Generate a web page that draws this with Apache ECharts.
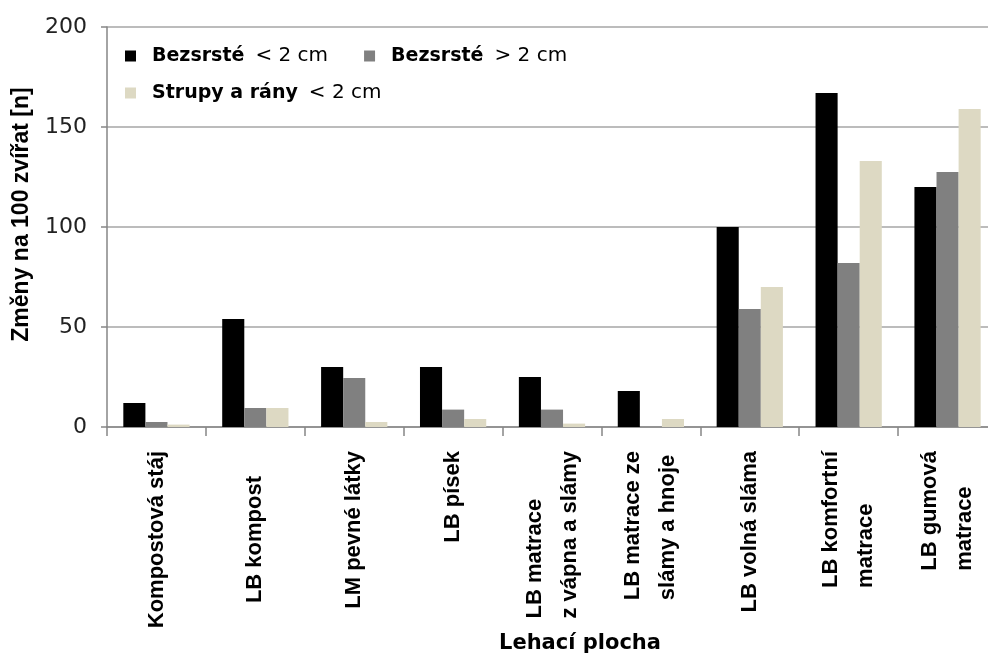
<!DOCTYPE html>
<html>
<head>
<meta charset="utf-8">
<script src="https://cdn.jsdelivr.net/npm/echarts@6/dist/echarts.min.js"></script>
<style>
  html, body { margin: 0; padding: 0; background: #fff; overflow: hidden; }
  #chart { width: 997px; height: 657px; }
</style>
</head>
<body>
<div id="chart"></div>
<script>
// data
const categories = [
  'Kompostová stáj',
  'LB kompost',
  'LM pevné látky',
  'LB písek',
  'LB matrace\nz vápna a slámy',
  'LB matrace ze\nslámy a hnoje',
  'LB volná sláma',
  'LB komfortní\nmatrace',
  'LB gumová\nmatrace'
];
const seriesNames = ['Bezsrsté < 2 cm', 'Bezsrsté > 2 cm', 'Strupy a rány < 2 cm'];
const bezsrsteSmall = [12, 54, 30, 30, 25, 18, 100, 167, 120];
const bezsrsteLarge = [2.5, 9.5, 24.5, 8.7, 8.7, 0, 59, 82, 127.5];
const strupySmall = [1.2, 9.5, 2.5, 4, 1.7, 4, 70, 133, 159];
const yTicks = { min: 0, max: 200, interval: 50 };

const colors = ['#000000', '#808080', '#ddd9c3'];

// the chart is a bit wider than the window: the reference is cut off on the right
const chart = echarts.init(document.getElementById('chart'));

const legendRich = {
  b: { fontFamily: 'DejaVu Sans', fontWeight: 'bold', fontSize: 19, color: '#000', lineHeight: 24, padding: [0, 0, 0, 11] },
  r: { fontFamily: 'DejaVu Sans', fontSize: 20, color: '#000', lineHeight: 24, padding: [0, 0, 0, 11] }
};
function legendFormatter(name) {
  const m = name.match(/^(.*?)\s+([<>].*)$/);
  return '{b|' + m[1] + '}{r|' + m[2] + '}';
}

const labelData = categories.map(function (c, i) {
  if (i === 1) return { value: c, textStyle: { padding: [0, 25, 0, 0] } };
  return c;
});

const option = {
  animation: false,
  color: colors,
  grid: { left: 107, right: 0, top: 27, bottom: 230, outerBoundsMode: 'none', containLabel: false },
  legend: [
    {
      data: [seriesNames[0], seriesNames[1]],
      left: 125, top: 46, padding: 0,
      itemWidth: 11, itemHeight: 11, itemGap: 36,
      icon: 'rect',
      formatter: legendFormatter,
      textStyle: { rich: legendRich }
    },
    {
      data: [seriesNames[2]],
      left: 125, top: 83, padding: 0,
      itemWidth: 11, itemHeight: 11,
      icon: 'rect',
      formatter: legendFormatter,
      textStyle: { rich: legendRich }
    }
  ],
  xAxis: {
    type: 'category',
    data: labelData,
    name: 'Lehací plocha',
    nameLocation: 'middle',
    nameGap: 206,
    nameMoveOverlap: false,
    nameTextStyle: { fontFamily: 'DejaVu Sans', fontWeight: 'bold', fontSize: 21, color: '#000', padding: [0, 0, 0, 56] },
    axisLine: { lineStyle: { color: '#868686', width: 1.5 } },
    axisTick: { show: true, length: 9, lineStyle: { color: '#868686', width: 1.5 } },
    axisLabel: {
      interval: 0,
      rotate: 90,
      margin: 24,
      color: '#000',
      fontFamily: 'Liberation Sans',
      fontWeight: 'bold',
      fontSize: 22,
      lineHeight: 35,
      formatter: function (v) {
        return v.split('\n').map(function (l) { return '{l|' + l + '}'; }).join('\n');
      },
      rich: {
        l: { align: 'left', fontFamily: 'Liberation Sans', fontWeight: 'bold', fontSize: 22, lineHeight: 35, color: '#000' }
      }
    }
  },
  yAxis: {
    type: 'value',
    min: yTicks.min,
    max: yTicks.max,
    interval: yTicks.interval,
    name: 'Změny na 100 zvířat [n]',
    nameLocation: 'middle',
    nameGap: 74,
    nameMoveOverlap: false,
    nameTextStyle: { fontFamily: 'Liberation Sans', fontWeight: 'bold', fontSize: 23, color: '#000', padding: [0, 0, 0, 25] },
    axisLine: { show: true, lineStyle: { color: '#868686', width: 1.5 } },
    axisTick: { show: true, length: 6, lineStyle: { color: '#868686', width: 1.5 } },
    axisLabel: { margin: 20, color: '#222', fontFamily: 'DejaVu Sans', fontSize: 22 },
    splitLine: { lineStyle: { color: '#a6a6a6', width: 1.5 } }
  },
  series: [
    { name: seriesNames[0], type: 'bar', data: bezsrsteSmall, barGap: '0%', barCategoryGap: '33%' },
    { name: seriesNames[1], type: 'bar', data: bezsrsteLarge, barGap: '0%', barCategoryGap: '33%' },
    { name: seriesNames[2], type: 'bar', data: strupySmall, barGap: '0%', barCategoryGap: '33%' }
  ]
};

chart.setOption(option);
</script>
</body>
</html>
